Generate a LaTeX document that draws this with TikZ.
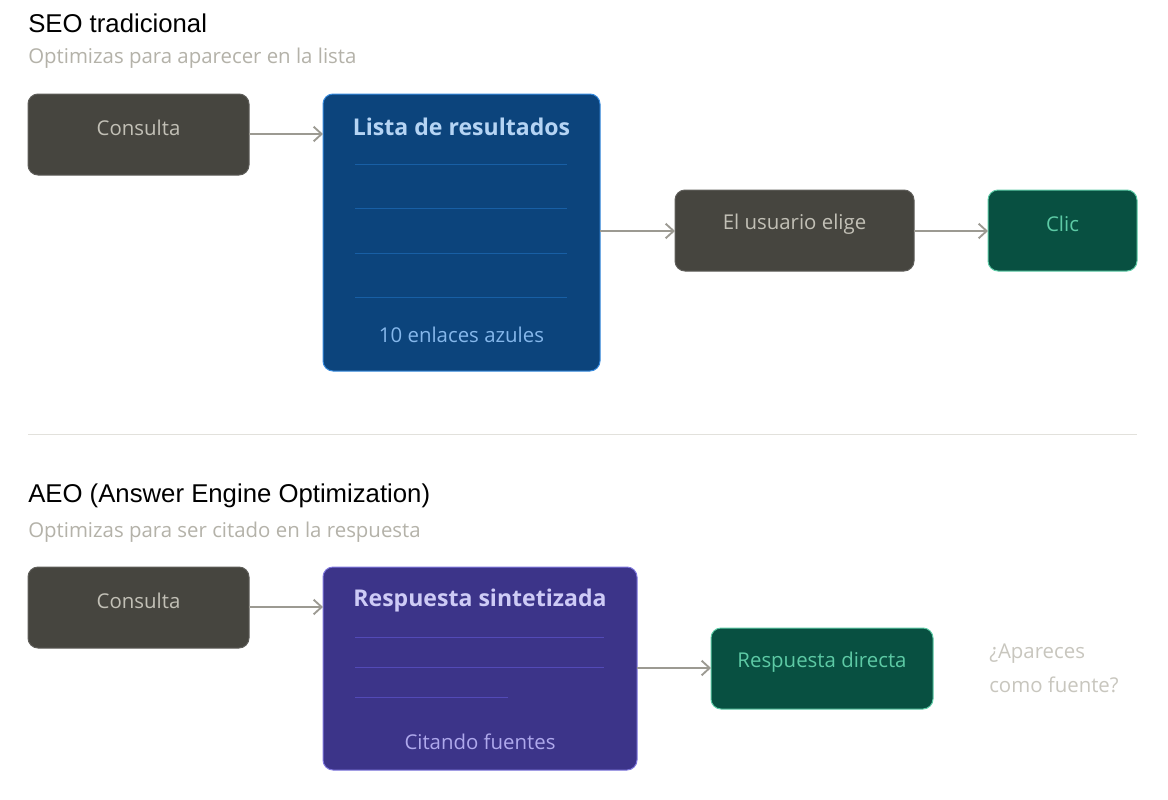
\documentclass[tikz,border=0pt]{standalone}
\usepackage{fontspec}
\setmainfont{Open Sans}
\newfontfamily\titlefont{Liberation Sans}
\usetikzlibrary{arrows.meta}
\definecolor{grayfill}{HTML}{46453F}
\definecolor{grayline}{HTML}{5F5E5A}
\definecolor{graytext}{HTML}{C2C0B6}
\definecolor{bluefill}{HTML}{0C447C}
\definecolor{blueline}{HTML}{378ADD}
\definecolor{bluetitle}{HTML}{B5D4F4}
\definecolor{bluesub}{HTML}{85B7EB}
\definecolor{bluerule}{HTML}{185FA5}
\definecolor{greenfill}{HTML}{085041}
\definecolor{greenline}{HTML}{5DCAA5}
\definecolor{purplefill}{HTML}{3C3489}
\definecolor{purpleline}{HTML}{7F77DD}
\definecolor{purpletitle}{HTML}{CECBF6}
\definecolor{purplesub}{HTML}{AFA9EC}
\definecolor{purplerule}{HTML}{534AB7}
\definecolor{arrowgray}{HTML}{9C9A92}
\definecolor{subgray}{HTML}{B4B2A9}
\definecolor{qgray}{HTML}{C8C6BE}
\definecolor{divider}{HTML}{E2E1DC}
\tikzset{
  box/.style={draw, rounded corners=7.5pt, line width=0.75pt},
  graybox/.style={box, fill=grayfill, draw=grayline},
  greenbox/.style={box, fill=greenfill, draw=greenline},
  bluebox/.style={box, fill=bluefill, draw=blueline},
  purplebox/.style={box, fill=purplefill, draw=purpleline},
  boxtext/.style={font=\fontsize{15.3}{18}\selectfont, anchor=center, inner sep=0pt},
  boxhead/.style={font=\fontsize{17.3}{21}\selectfont\bfseries, anchor=center, inner sep=0pt},
  conn/.style={draw=arrowgray, line width=1.4pt, -{Straight Barb[length=6pt,width=11pt,line width=1.4pt]}},
  title/.style={font=\titlefont\fontsize{19.3}{23}\selectfont, anchor=west, inner sep=0pt, text=black},
  subtitle/.style={font=\fontsize{15.3}{18}\selectfont, anchor=west, inner sep=0pt, text=subgray},
}
\begin{document}
\begin{tikzpicture}[x=0.75pt,y=-0.75pt]
\useasboundingbox[fill=white] (0,0) rectangle (1168,800);

% ---- SEO section
\node[title] (t1) at (28,23) {SEO tradicional};
\node[subtitle] (s1) at (28,58) {Optimizas para aparecer en la lista};

\path[graybox] (28,94) rectangle (249,175);
\node[boxtext, text=graytext] (c1t) at (138.5,128) {Consulta};

\path[bluebox] (323,94) rectangle (600,371);
\node[boxhead, text=bluetitle] (l1t) at (461.5,127) {Lista de resultados};
\foreach \yy in {164,208,253,297} \draw[bluerule, line width=0.6pt] (355,\yy) -- (567,\yy);
\node[boxtext, text=bluesub] (l1s) at (461.5,335) {10 enlaces azules};

\path[graybox] (675,190) rectangle (914,271);
\node[boxtext, text=graytext] (ut) at (794.5,224) {El usuario elige};

\path[greenbox] (988,190) rectangle (1137,271);
\node[boxtext, text=greenline] (clt) at (1062.5,224) {Clic};

\coordinate (a1s) at (249,134);
\coordinate (a1e) at (323,134);
\coordinate (a2s) at (600,231);
\coordinate (a2e) at (675,231);
\coordinate (a3s) at (914,231);
\coordinate (a3e) at (988,231);
\draw[conn] (a1s) -- (a1e);
\draw[conn] (a2s) -- (a2e);
\draw[conn] (a3s) -- (a3e);

% divider
\coordinate (d1) at (28,434);
\coordinate (d2) at (1137,434);
\draw[divider, line width=0.75pt] (d1) -- (d2);

% ---- AEO section
\node[title] (t2) at (28,496) {AEO (Answer Engine Optimization)};
\node[subtitle] (s2) at (28,532) {Optimizas para ser citado en la respuesta};

\path[graybox] (28,567) rectangle (249,648);
\node[boxtext, text=graytext] (c2t) at (138.5,601) {Consulta};

\path[purplebox] (323,567) rectangle (637,770);
\node[boxhead, text=purpletitle] (rst) at (480,600) {Respuesta sintetizada};
\draw[purplerule, line width=0.6pt] (355,637) -- (604,637);
\draw[purplerule, line width=0.6pt] (355,667) -- (604,667);
\draw[purplerule, line width=0.6pt] (355,697) -- (508,697);
\node[boxtext, text=purplesub] (rss) at (480,742) {Citando fuentes};

\path[greenbox] (711,628) rectangle (933,709);
\node[boxtext, text=greenline] (rdt) at (822,662) {Respuesta directa};

\node[anchor=west, inner sep=0pt, text=qgray, font=\fontsize{15.3}{18}\selectfont] (q1) at (989,654) {¿Apareces};
\node[anchor=west, inner sep=0pt, text=qgray, font=\fontsize{15.3}{18}\selectfont] (q2) at (989,685) {como fuente?};

\coordinate (b1s) at (249,607);
\coordinate (b1e) at (323,607);
\coordinate (b2s) at (637,668);
\coordinate (b2e) at (711,668);
\draw[conn] (b1s) -- (b1e);
\draw[conn] (b2s) -- (b2e);
\end{tikzpicture}
\end{document}
